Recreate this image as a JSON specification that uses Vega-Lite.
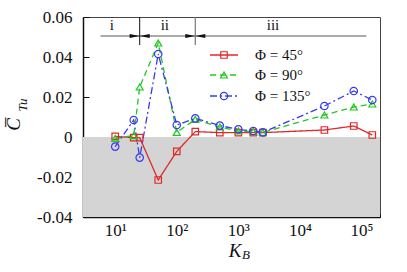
{
  "$schema": "https://vega.github.io/schema/vega-lite/v6.json",
  "width": 297,
  "height": 200,
  "autosize": {"type": "none"},
  "padding": {"left": 83, "top": 17, "right": 27, "bottom": 55},
  "background": "white",
  "config": {
    "font": "Liberation Serif",
    "view": {"stroke": "#444", "strokeWidth": 1},
    "legend": {"disable": true},
    "axis": {"grid": false, "domainColor": "#111", "domainWidth": 1.5, "tickColor": "#111", "labelColor": "#111", "labelFont": "Liberation Serif", "labelFontSize": 17, "title": null}
  },
  "layer": [
    {
      "data": {"values": [{}]},
      "mark": {"type": "rect", "color": "#d4d4d4"},
      "encoding": {
        "x": {"datum": 3},
        "x2": {"datum": 200000},
        "y": {"datum": 0},
        "y2": {"datum": -0.04}
      }
    },
    {
      "data": {"values": [
        {"phi": "45", "K": 10, "C": 0.0003}, {"phi": "45", "K": 20, "C": -0.0003}, {"phi": "45", "K": 25, "C": -0.0003},
        {"phi": "45", "K": 50, "C": -0.0215}, {"phi": "45", "K": 100, "C": -0.0072}, {"phi": "45", "K": 200, "C": 0.0027},
        {"phi": "45", "K": 500, "C": 0.0022}, {"phi": "45", "K": 1000, "C": 0.0022}, {"phi": "45", "K": 1750, "C": 0.0022},
        {"phi": "45", "K": 2500, "C": 0.0022}, {"phi": "45", "K": 25000, "C": 0.0035}, {"phi": "45", "K": 75000, "C": 0.0055},
        {"phi": "45", "K": 150000, "C": 0.001},
        {"phi": "90", "K": 10, "C": -0.0007}, {"phi": "90", "K": 20, "C": 0.0007}, {"phi": "90", "K": 25, "C": 0.025},
        {"phi": "90", "K": 50, "C": 0.047}, {"phi": "90", "K": 100, "C": 0.0023}, {"phi": "90", "K": 200, "C": 0.0088},
        {"phi": "90", "K": 500, "C": 0.005}, {"phi": "90", "K": 1000, "C": 0.003}, {"phi": "90", "K": 1750, "C": 0.0027},
        {"phi": "90", "K": 2500, "C": 0.0023}, {"phi": "90", "K": 25000, "C": 0.011}, {"phi": "90", "K": 75000, "C": 0.015},
        {"phi": "90", "K": 150000, "C": 0.0165},
        {"phi": "135", "K": 10, "C": -0.0048}, {"phi": "135", "K": 20, "C": 0.0085}, {"phi": "135", "K": 25, "C": -0.0103},
        {"phi": "135", "K": 50, "C": 0.0415}, {"phi": "135", "K": 100, "C": 0.006}, {"phi": "135", "K": 200, "C": 0.0093},
        {"phi": "135", "K": 500, "C": 0.0057}, {"phi": "135", "K": 1000, "C": 0.0038}, {"phi": "135", "K": 1750, "C": 0.003},
        {"phi": "135", "K": 2500, "C": 0.0023}, {"phi": "135", "K": 25000, "C": 0.0155}, {"phi": "135", "K": 75000, "C": 0.023},
        {"phi": "135", "K": 150000, "C": 0.0185}
      ]},
      "layer": [
        {
          "mark": {"type": "line", "strokeWidth": 1.3},
          "encoding": {
            "x": {"field": "K", "type": "quantitative",
              "scale": {"type": "log", "domain": [3, 200000], "nice": false},
              "axis": {
                "orient": "bottom",
                "tickValues": [3,4,5,6,7,8,9,10,20,30,40,50,60,70,80,90,100,200,300,400,500,600,700,800,900,1000,2000,3000,4000,5000,6000,7000,8000,9000,10000,20000,30000,40000,50000,60000,70000,80000,90000,100000],
                "labelExpr": "datum.value == 10 ? '10¹' : datum.value == 100 ? '10²' : datum.value == 1000 ? '10³' : datum.value == 10000 ? '10⁴' : datum.value == 100000 ? '10⁵' : ''",
                "tickSize": {"condition": {"test": "abs(log(datum.value)/LN10 - round(log(datum.value)/LN10)) < 0.001", "value": -6}, "value": -3},
                "labelPadding": 11,
                "labelFlush": false,
                "labelOverlap": false
              }
            },
            "y": {"field": "C", "type": "quantitative",
              "scale": {"domain": [-0.04, 0.06], "nice": false, "zero": false},
              "axis": {
                "orient": "left",
                "tickValues": [-0.04,-0.035,-0.03,-0.025,-0.02,-0.015,-0.01,-0.005,0,0.005,0.01,0.015,0.02,0.025,0.03,0.035,0.04,0.045,0.05,0.055,0.06],
                "labelExpr": "abs(datum.value*50 - round(datum.value*50)) < 0.001 ? (datum.value == 0 ? '0' : replace(format(datum.value, '.2f'), '\u2212', '-')) : ''",
                "tickSize": {"condition": {"test": "abs(datum.value*50 - round(datum.value*50)) < 0.001", "value": -6}, "value": -3},
                "labelPadding": 17,
                "labelFlush": false,
                "labelOverlap": false
              }
            },
            "color": {"field": "phi", "type": "nominal", "scale": {"domain": ["45", "90", "135"], "range": ["#e02828", "#20c820", "#3a3aee"]}},
            "strokeDash": {"field": "phi", "type": "nominal", "scale": {"domain": ["45", "90", "135"], "range": [[1, 0], [6, 4], [7, 3, 2, 3]]}}
          }
        },
        {
          "mark": {"type": "point", "filled": false, "strokeWidth": 1.2, "opacity": 1},
          "encoding": {
            "x": {"field": "K", "type": "quantitative"},
            "y": {"field": "C", "type": "quantitative"},
            "color": {"field": "phi", "type": "nominal"},
            "shape": {"field": "phi", "type": "nominal", "scale": {"domain": ["45", "90", "135"], "range": ["square", "triangle-up", "circle"]}},
            "size": {"field": "phi", "type": "nominal", "scale": {"domain": ["45", "90", "135"], "range": [42, 55, 85]}}
          }
        }
      ]
    },
    {
      "data": {"values": [{"phi": "45", "label": "Φ = 45°"}]},
      "layer": [
        {"mark": {"type": "rule", "strokeWidth": 1.3}, "encoding": {"x": {"datum": 347}, "x2": {"datum": 987}, "y": {"datum": 0.041}, "color": {"field": "phi", "type": "nominal"}, "strokeDash": {"field": "phi", "type": "nominal"}}},
        {"mark": {"type": "point", "filled": false, "strokeWidth": 1.2, "opacity": 1}, "encoding": {"x": {"datum": 585}, "y": {"datum": 0.041}, "color": {"field": "phi", "type": "nominal"}, "shape": {"field": "phi", "type": "nominal"}, "size": {"field": "phi", "type": "nominal"}}},
        {"mark": {"type": "text", "align": "left", "baseline": "middle", "fontSize": 15, "color": "#111"}, "encoding": {"x": {"datum": 1866}, "y": {"datum": 0.041}, "text": {"field": "label"}}}
      ]
    },
    {
      "data": {"values": [{"phi": "90", "label": "Φ = 90°"}]},
      "layer": [
        {"mark": {"type": "rule", "strokeWidth": 1.3}, "encoding": {"x": {"datum": 347}, "x2": {"datum": 987}, "y": {"datum": 0.031}, "color": {"field": "phi", "type": "nominal"}, "strokeDash": {"field": "phi", "type": "nominal"}}},
        {"mark": {"type": "point", "filled": false, "strokeWidth": 1.2, "opacity": 1}, "encoding": {"x": {"datum": 585}, "y": {"datum": 0.031}, "color": {"field": "phi", "type": "nominal"}, "shape": {"field": "phi", "type": "nominal"}, "size": {"field": "phi", "type": "nominal"}}},
        {"mark": {"type": "text", "align": "left", "baseline": "middle", "fontSize": 15, "color": "#111"}, "encoding": {"x": {"datum": 1866}, "y": {"datum": 0.031}, "text": {"field": "label"}}}
      ]
    },
    {
      "data": {"values": [{"phi": "135", "label": "Φ = 135°"}]},
      "layer": [
        {"mark": {"type": "rule", "strokeWidth": 1.3}, "encoding": {"x": {"datum": 347}, "x2": {"datum": 987}, "y": {"datum": 0.0205}, "color": {"field": "phi", "type": "nominal"}, "strokeDash": {"field": "phi", "type": "nominal"}}},
        {"mark": {"type": "point", "filled": false, "strokeWidth": 1.2, "opacity": 1}, "encoding": {"x": {"datum": 585}, "y": {"datum": 0.0205}, "color": {"field": "phi", "type": "nominal"}, "shape": {"field": "phi", "type": "nominal"}, "size": {"field": "phi", "type": "nominal"}}},
        {"mark": {"type": "text", "align": "left", "baseline": "middle", "fontSize": 15, "color": "#111"}, "encoding": {"x": {"datum": 1866}, "y": {"datum": 0.0205}, "text": {"field": "label"}}}
      ]
    },
    {
      "data": {"values": [{}]},
      "layer": [
        {"mark": {"type": "rule", "color": "#555", "strokeWidth": 1}, "encoding": {"x": {"datum": 5.8}, "x2": {"datum": 120000}, "y": {"datum": 0.0505}}},
        {"mark": {"type": "rule", "color": "#111", "strokeWidth": 1}, "encoding": {"x": {"datum": 25}, "y": {"datum": 0.06}, "y2": {"datum": 0.046}}},
        {"mark": {"type": "rule", "color": "#777", "strokeWidth": 1.2}, "encoding": {"x": {"datum": 200}, "y": {"datum": 0.06}, "y2": {"datum": 0.046}}},
        {"mark": {"type": "point", "shape": "M-1,-0.4L1,0L-1,0.4Z", "filled": true, "color": "#111", "size": 100, "opacity": 1}, "encoding": {"x": {"datum": 20.7}, "y": {"datum": 0.0505}}},
        {"mark": {"type": "point", "shape": "M1,-0.4L-1,0L1,0.4Z", "filled": true, "color": "#111", "size": 100, "opacity": 1}, "encoding": {"x": {"datum": 30.1}, "y": {"datum": 0.0505}}},
        {"mark": {"type": "point", "shape": "M-1,-0.4L1,0L-1,0.4Z", "filled": true, "color": "#111", "size": 100, "opacity": 1}, "encoding": {"x": {"datum": 166}, "y": {"datum": 0.0505}}},
        {"mark": {"type": "point", "shape": "M1,-0.4L-1,0L1,0.4Z", "filled": true, "color": "#111", "size": 100, "opacity": 1}, "encoding": {"x": {"datum": 241}, "y": {"datum": 0.0505}}},
        {"mark": {"type": "text", "text": "i", "fontSize": 15, "align": "center", "baseline": "middle", "color": "#111"}, "encoding": {"x": {"datum": 8.8}, "y": {"datum": 0.056}}},
        {"mark": {"type": "text", "text": "ii", "fontSize": 15, "align": "center", "baseline": "middle", "color": "#111"}, "encoding": {"x": {"datum": 64}, "y": {"datum": 0.056}}},
        {"mark": {"type": "text", "text": "iii", "fontSize": 15, "align": "center", "baseline": "middle", "color": "#111"}, "encoding": {"x": {"datum": 3660}, "y": {"datum": 0.056}}},
        {"mark": {"type": "text", "text": "K", "fontSize": 19, "fontStyle": "italic", "align": "center", "baseline": "alphabetic", "color": "#111"}, "encoding": {"x": {"datum": 883}, "y": {"datum": -0.06}}},
        {"mark": {"type": "text", "text": "B", "fontSize": 13, "fontStyle": "italic", "align": "left", "baseline": "alphabetic", "color": "#111"}, "encoding": {"x": {"datum": 1146}, "y": {"datum": -0.0612}}},
        {"mark": {"type": "text", "text": "C\u0305", "fontSize": 19, "fontStyle": "italic", "angle": 270, "align": "center", "baseline": "alphabetic", "color": "#111"}, "encoding": {"x": {"datum": 0.284}, "y": {"datum": 0.00625}}},
        {"mark": {"type": "text", "text": "Tu", "fontSize": 13, "fontStyle": "italic", "angle": 270, "align": "center", "baseline": "alphabetic", "color": "#111"}, "encoding": {"x": {"datum": 0.369}, "y": {"datum": 0.016}}}
      ]
    }
  ]
}
